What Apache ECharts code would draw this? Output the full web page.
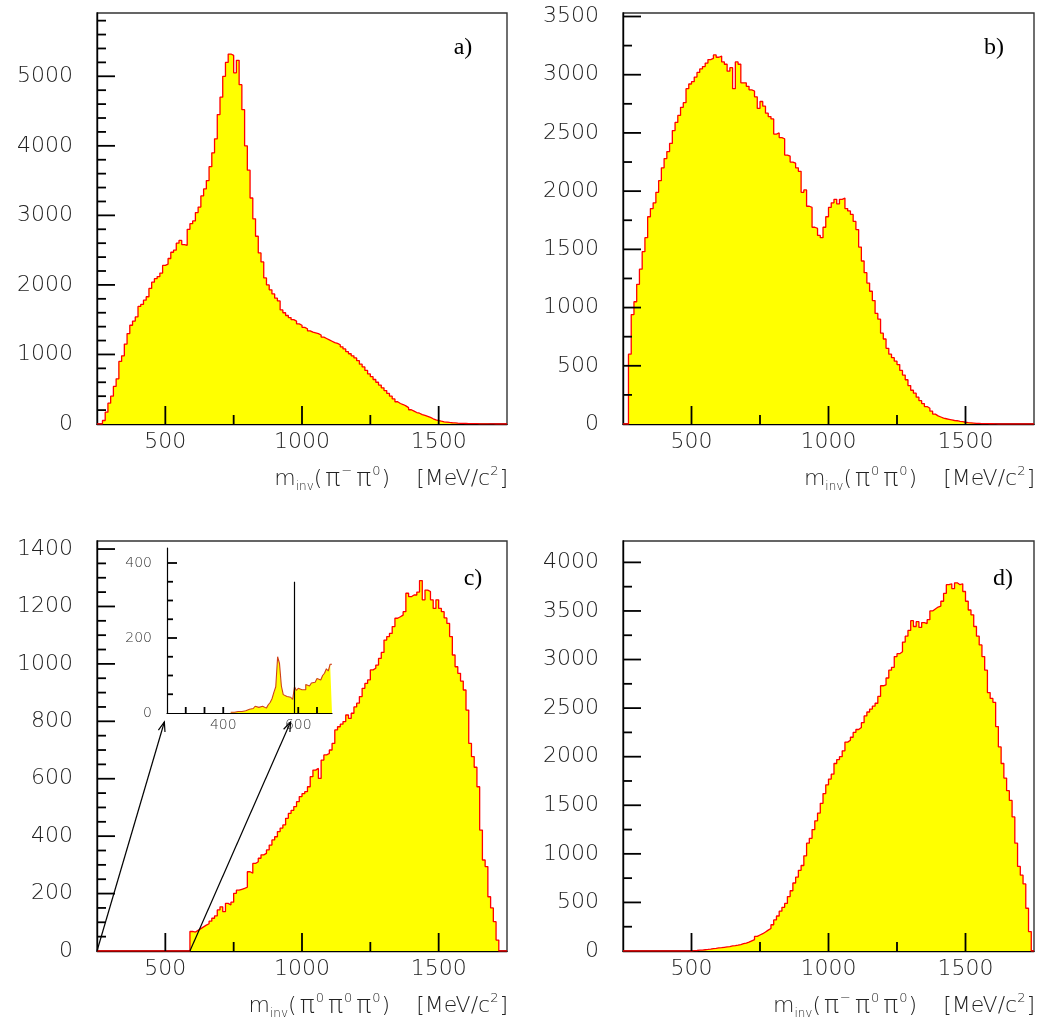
<!DOCTYPE html>
<html>
<head>
<meta charset="utf-8">
<script src="https://cdn.jsdelivr.net/npm/echarts@6/dist/echarts.min.js"></script>
<style>
  html, body { margin: 0; padding: 0; background: #fff; }
  #chart { width: 1037px; height: 1022px; }
</style>
</head>
<body>
<div id="chart"></div>
<script>
// Invariant-mass spectra, 10 MeV bins between 250 and 1750 MeV/c^2
const MASS_MIN = 250;
const MASS_MAX = 1750;
const BIN_WIDTH = 10;

// a) m(pi- pi0), first bin edge 270
const startA = 270;
const countsA = [
  50, 170, 300, 400, 540, 650, 900, 980, 1150, 1300,
  1420, 1480, 1540, 1690, 1720, 1780, 1830, 1950, 2040, 2090,
  2120, 2170, 2280, 2300, 2380, 2470, 2500, 2600, 2640, 2580,
  2570, 2800, 2880, 2920, 3040, 3120, 3280, 3380, 3500, 3700,
  3900, 4100, 4450, 4700, 5000, 5200, 5320, 5300, 5050, 5230,
  4880, 4520, 4000, 3650, 3250, 2950, 2700, 2460, 2330, 2100,
  2000, 1930, 1870, 1810, 1770, 1640, 1600, 1560, 1530, 1500,
  1480, 1440, 1420, 1390, 1370, 1340, 1320, 1310, 1300, 1280,
  1250, 1230, 1210, 1190, 1170, 1160, 1140, 1110, 1080, 1040,
  1010, 980, 950, 910, 860, 820, 770, 720, 680, 640,
  600, 560, 520, 480, 440, 400, 360, 320, 295, 280,
  260, 235, 205, 185, 165, 155, 135, 125, 110, 95,
  75, 60, 50, 40, 32, 28, 22, 18, 15, 12,
  10, 8, 7, 6, 5, 4, 4, 3, 3, 2,
  2, 1, 1
];

// b) m(pi0 pi0), first bin edge 270
const startB = 270;
const countsB = [
  600, 940, 1050, 1200, 1330, 1480, 1600, 1780, 1850, 1900,
  1990, 2090, 2200, 2280, 2340, 2410, 2520, 2590, 2650, 2720,
  2760, 2880, 2920, 2940, 2980, 3020, 3050, 3070, 3100, 3130,
  3140, 3170, 3150, 3160, 3110, 3090, 3030, 3060, 2880, 3110,
  3090, 2930, 2930, 2900, 2870, 2860, 2810, 2710, 2770, 2730,
  2670, 2640, 2620, 2490, 2500, 2460, 2450, 2310, 2300, 2250,
  2240, 2200, 2170, 1990, 2010, 1870, 1860, 1690, 1680, 1620,
  1600, 1690, 1780, 1860, 1900, 1930, 1890, 1930, 1940, 1850,
  1830, 1800, 1740, 1670, 1520, 1400, 1300, 1210, 1140, 1060,
  950, 900, 780, 730, 650, 600, 570, 540, 510, 460,
  420, 380, 330, 290, 265, 230, 200, 175, 150, 135,
  110, 85, 70, 60, 50, 45, 40, 35, 30, 28,
  22, 20, 15, 12, 10, 8, 6, 5, 4, 3,
  3, 2, 2, 1
];

// c) m(pi0 pi0 pi0), events above the 590 MeV cut
const startC = 590;
const countsC = [
  68, 66, 72, 78, 84, 90, 95, 104, 114, 122,
  143, 154, 137, 166, 160, 170, 201, 212, 215, 218,
  222, 276, 271, 305, 311, 323, 335, 340, 352, 369,
  387, 398, 416, 428, 439, 462, 479, 490, 503, 520,
  538, 548, 555, 572, 607, 630, 636, 601, 665, 683,
  688, 700, 723, 770, 781, 790, 799, 822, 810, 828,
  850, 863, 886, 915, 932, 944, 979, 985, 996, 1019,
  1040, 1083, 1095, 1106, 1130, 1159, 1164, 1170, 1182, 1246,
  1234, 1240, 1240, 1250, 1290, 1223, 1257, 1252, 1223, 1193,
  1223, 1193, 1182, 1160, 1141, 1095, 1031, 990, 967, 940,
  909, 839, 723, 677, 640, 572, 421, 317, 294, 189,
  150, 102, 38
];

// d) m(pi- pi0 pi0), first bin edge 500
const startD = 500;
const countsD = [
  3, 5, 8, 10, 13, 16, 20, 25, 28, 32,
  34, 38, 42, 46, 52, 55, 60, 66, 75, 82,
  92, 105, 118, 150, 165, 178, 195, 215, 232, 270,
  320, 360, 410, 450, 490, 560, 620, 700, 760, 830,
  880, 980, 1110, 1160, 1250, 1340, 1420, 1520, 1620, 1710,
  1770, 1820, 1930, 1970, 2000, 2060, 2150, 2170, 2200, 2250,
  2280, 2300, 2350, 2420, 2460, 2490, 2520, 2550, 2620, 2730,
  2740, 2810, 2890, 2920, 3030, 3060, 3080, 3180, 3240, 3300,
  3400, 3340, 3390, 3330, 3380, 3370, 3410, 3500, 3520, 3540,
  3550, 3600, 3680, 3770, 3780, 3730, 3790, 3770, 3780, 3700,
  3600, 3510, 3460, 3340, 3240, 3150, 3030, 2890, 2660, 2600,
  2560, 2310, 2100, 1930, 1780, 1650, 1550, 1380, 1110, 870,
  780, 690, 440, 200
];

// inset of c): low-mass region in 5 MeV bins, and the selection cut
const INSET_MIN = 250;
const INSET_MAX = 690;
const INSET_YMAX = 440;
const insetWidth = 5;
const startInset = 420;
const countsInset = [
  2, 2, 3, 4, 4, 4, 5, 6, 8, 10,
  12, 12, 16, 18, 15, 14, 18, 16, 13, 18,
  22, 28, 38, 55, 70, 150, 132, 72, 49, 44,
  48, 42, 38, 36, 70, 60, 66, 62, 64, 62,
  76, 72, 70, 80, 82, 84, 92, 88, 90, 100,
  106, 118, 112, 130
];
const CUT_MASS = 590;
const CUT_LINE_TOP = 350;

// axis ticks
const massMajor = [500, 1000, 1500];
const massMinor = [750, 1250];
const yMaxA = 5910, yMajorA = [0, 1000, 2000, 3000, 4000, 5000], yStepA = 200;
const yMaxB = 3530, yMajorB = [0, 500, 1000, 1500, 2000, 2500, 3000, 3500], yStepB = 250;
const yMaxC = 1428, yMajorC = [0, 200, 400, 600, 800, 1000, 1200, 1400], yStepC = 50;
const yMaxD = 4220, yMajorD = [0, 500, 1000, 1500, 2000, 2500, 3000, 3500, 4000], yStepD = 250;
const insetYLabels = [0, 200, 400];
const insetYTicks = [50, 100, 150, 250, 300, 350];
const insetXLabels = [400, 600];
const insetXTicks = [300, 350, 400, 600, 650];

const panelLetters = ['a)', 'b)', 'c)', 'd)'];
const UNIT = '{g| }{t|[MeV/c}{p|2}{t|]}';
const axisTitles = [
  '{t|m}{s|inv}{t|(}{pi|π}{p|−}{pi|π}{p|0}{t|)}' + UNIT,
  '{t|m}{s|inv}{t|(}{pi|π}{p|0}{pi|π}{p|0}{t|)}' + UNIT,
  '{t|m}{s|inv}{t|(}{pi|π}{p|0}{pi|π}{p|0}{pi|π}{p|0}{t|)}' + UNIT,
  '{t|m}{s|inv}{t|(}{pi|π}{p|−}{pi|π}{p|0}{pi|π}{p|0}{t|)}' + UNIT
];

// ---------------------------------------------------------------
function histPoints(start, counts, width, lo, hi) {
  const pts = [];
  for (let x = lo; x < start - 1e-9; x += width) pts.push([x, 0]);
  counts.forEach((c, i) => pts.push([start + i * width, c]));
  for (let x = start + counts.length * width; x < hi - 1e-9; x += width) pts.push([x, 0]);
  pts.push([hi, pts[pts.length - 1][1]]);
  return pts;
}
function minorSteps(max, step, majors) {
  const out = [];
  for (let v = step; v < max; v += step) if (majors.indexOf(v) < 0) out.push(v);
  return out;
}

const FONT = 'DejaVu Sans';
const INK = '#222';
const LABEL_FONT = { fontFamily: FONT, fontWeight: 300, fontSize: 22, color: INK };
const richTitle = {
  t: { fontFamily: FONT, fontWeight: 300, fontSize: 22, color: INK, lineHeight: 28, verticalAlign: 'middle' },
  pi: { fontFamily: FONT, fontWeight: 300, fontSize: 25, color: INK, lineHeight: 28, verticalAlign: 'middle', padding: [0, 1, 0, 3] },
  s: { fontFamily: FONT, fontWeight: 300, fontSize: 12, color: INK, lineHeight: 13, verticalAlign: 'bottom' },
  p: { fontFamily: FONT, fontWeight: 300, fontSize: 13, color: INK, lineHeight: 15, verticalAlign: 'top', padding: [0, 1, 0, 0] },
  g: { fontSize: 22, width: 26, lineHeight: 28 }
};

const grids = [
  { left: 97, top: 13, width: 410, height: 411 },
  { left: 623, top: 13, width: 411, height: 411 },
  { left: 97, top: 541, width: 410, height: 410 },
  { left: 623, top: 541, width: 411, height: 410 }
].map(g => Object.assign(g, { show: true, borderColor: '#333', borderWidth: 1.4, backgroundColor: 'transparent', outerBoundsMode: 'none' }));
grids.push({ left: 167, top: 548, width: 165, height: 165, show: false, outerBoundsMode: 'none' });

const panels = [
  { start: startA, counts: countsA, ymax: yMaxA, majors: yMajorA, step: yStepA },
  { start: startB, counts: countsB, ymax: yMaxB, majors: yMajorB, step: yStepB },
  { start: startC, counts: countsC, ymax: yMaxC, majors: yMajorC, step: yStepC },
  { start: startD, counts: countsD, ymax: yMaxD, majors: yMajorD, step: yStepD }
];

// Inward tick marks, drawn as a custom series on its own layer above the filled histograms.
// Each datum: [0 = x-axis tick / 1 = y-axis tick, value, length in px]
const TICK_WIDTH = 1.8;
function tickSeries(axisIndex, xMin, ticks) {
  return {
    type: 'custom', xAxisIndex: axisIndex, yAxisIndex: axisIndex, zlevel: 2, z: 6, silent: true, animation: false,
    clip: false,
    data: ticks,
    renderItem: function (params, api) {
      const kind = api.value(0), v = api.value(1), len = api.value(2);
      if (kind === 0) {
        const p = api.coord([v, 0]);
        return { type: 'line', shape: { x1: p[0], y1: p[1], x2: p[0], y2: p[1] - len }, style: { stroke: '#000', lineWidth: TICK_WIDTH } };
      }
      const p = api.coord([xMin, v]);
      return { type: 'line', shape: { x1: p[0], y1: p[1], x2: p[0] + len, y2: p[1] }, style: { stroke: '#000', lineWidth: TICK_WIDTH } };
    }
  };
}

const AXIS_LINE = { color: '#000', width: 1.4 };
const xAxes = [], yAxes = [], series = [];
panels.forEach((p, i) => {
  xAxes.push({
    type: 'value', gridIndex: i, min: MASS_MIN, max: MASS_MAX, position: 'bottom',
    axisLine: { show: true, onZero: false, lineStyle: AXIS_LINE },
    axisTick: { show: false },
    axisLabel: Object.assign({ show: true, customValues: massMajor, margin: 7, formatter: v => String(v) }, LABEL_FONT),
    splitLine: { show: false },
    name: axisTitles[i], nameLocation: 'end', nameGap: 1,
    nameTextStyle: { align: 'right', verticalAlign: 'top', padding: [41, 0, 0, 0], rich: richTitle }
  });
  yAxes.push({
    type: 'value', gridIndex: i, min: 0, max: p.ymax, position: 'left',
    axisLine: { show: true, onZero: false, lineStyle: AXIS_LINE },
    axisTick: { show: false },
    axisLabel: Object.assign({ show: true, customValues: p.majors, margin: 24, formatter: v => String(v) }, LABEL_FONT),
    splitLine: { show: false }
  });
  series.push({
    type: 'line', xAxisIndex: i, yAxisIndex: i,
    data: histPoints(p.start, p.counts, BIN_WIDTH, MASS_MIN, MASS_MAX),
    step: 'end', symbol: 'none', silent: true, animation: false, z: 2,
    lineStyle: { color: '#ff0000', width: 1.3 },
    areaStyle: { color: '#ffff00', opacity: 1 }
  });
  const ticks = []
    .concat(massMajor.map(v => [0, v, 18]))
    .concat(massMinor.map(v => [0, v, 9]))
    .concat(p.majors.filter(v => v > 0).map(v => [1, v, 18]))
    .concat(minorSteps(p.ymax, p.step, p.majors).map(v => [1, v, 9]));
  series.push(tickSeries(i, MASS_MIN, ticks));
});

// inset axes (grid 4)
const INSET_FONT = { fontFamily: FONT, fontWeight: 300, fontSize: 14, color: '#333' };
xAxes.push({
  type: 'value', gridIndex: 4, min: INSET_MIN, max: INSET_MAX, position: 'bottom',
  axisLine: { show: true, onZero: false, lineStyle: { color: '#000', width: 1.2 } },
  axisTick: { show: false },
  axisLabel: Object.assign({ show: true, customValues: insetXLabels, margin: 5, formatter: v => String(v) }, INSET_FONT),
  splitLine: { show: false }
});
yAxes.push({
  type: 'value', gridIndex: 4, min: 0, max: INSET_YMAX, position: 'left',
  axisLine: { show: true, onZero: false, lineStyle: { color: '#000', width: 1.2 } },
  axisTick: { show: false },
  axisLabel: Object.assign({ show: true, customValues: insetYLabels, margin: 15, formatter: v => String(v) }, INSET_FONT),
  splitLine: { show: false }
});
series.push({
  type: 'line', xAxisIndex: 4, yAxisIndex: 4,
  data: histPoints(startInset, countsInset, insetWidth, startInset, INSET_MAX),
  step: 'end', symbol: 'none', silent: true, animation: false, z: 2,
  lineStyle: { color: '#d0401a', width: 1.1 },
  areaStyle: { color: '#ffff00', opacity: 1 },
  markLine: {
    silent: true, symbol: 'none', animation: false,
    label: { show: false },
    lineStyle: { color: '#000', width: 1.2, type: 'solid' },
    data: [[{ coord: [CUT_MASS, 0] }, { coord: [CUT_MASS, CUT_LINE_TOP] }]]
  }
});
series.push(tickSeries(4, INSET_MIN, []
  .concat(insetXTicks.map(v => [0, v, 6]))
  .concat(insetYLabels.filter(v => v > 0).map(v => [1, v, 10]))
  .concat(insetYTicks.map(v => [1, v, 6]))));

const letterPos = [[463, 48], [994, 48], [473, 579], [1003, 579]];
const graphics = panelLetters.map((t, i) => ({
  type: 'text', x: letterPos[i][0], y: letterPos[i][1], z: 10,
  style: { text: t, fontFamily: 'Liberation Serif', fontSize: 24, fill: '#000', align: 'center', verticalAlign: 'middle' }
}));

const chart = echarts.init(document.getElementById('chart'), null, { renderer: 'canvas' });
chart.setOption({
  animation: false,
  backgroundColor: '#fff',
  grid: grids,
  xAxis: xAxes,
  yAxis: yAxes,
  series: series,
  graphic: graphics
});

// arrows from the low-mass part of c) to the inset axis
function arrow(fromMass, toMass) {
  const a = chart.convertToPixel({ xAxisIndex: 2, yAxisIndex: 2 }, [fromMass, 0]);
  const b = chart.convertToPixel({ xAxisIndex: 4, yAxisIndex: 4 }, [toMass, 0]);
  const gap = 9;
  const t = (a[1] - (b[1] + gap)) / (a[1] - b[1]);
  const tip = [a[0] + (b[0] - a[0]) * t, a[1] + (b[1] - a[1]) * t];
  const ang = Math.atan2(tip[1] - a[1], tip[0] - a[0]);
  const hl = 10, hw = 0.35;
  const l = [tip[0] - hl * Math.cos(ang - hw), tip[1] - hl * Math.sin(ang - hw)];
  const r = [tip[0] - hl * Math.cos(ang + hw), tip[1] - hl * Math.sin(ang + hw)];
  return [
    { type: 'polyline', zlevel: 2, z: 10, shape: { points: [a, tip] }, style: { stroke: '#000', lineWidth: 1.2, fill: null } },
    { type: 'polyline', zlevel: 2, z: 10, shape: { points: [l, tip, r] }, style: { stroke: '#000', lineWidth: 1.2, fill: null } }
  ];
}
chart.setOption({
  graphic: graphics.concat(arrow(MASS_MIN, INSET_MIN), arrow(CUT_MASS, CUT_MASS))
});
</script>
</body>
</html>
